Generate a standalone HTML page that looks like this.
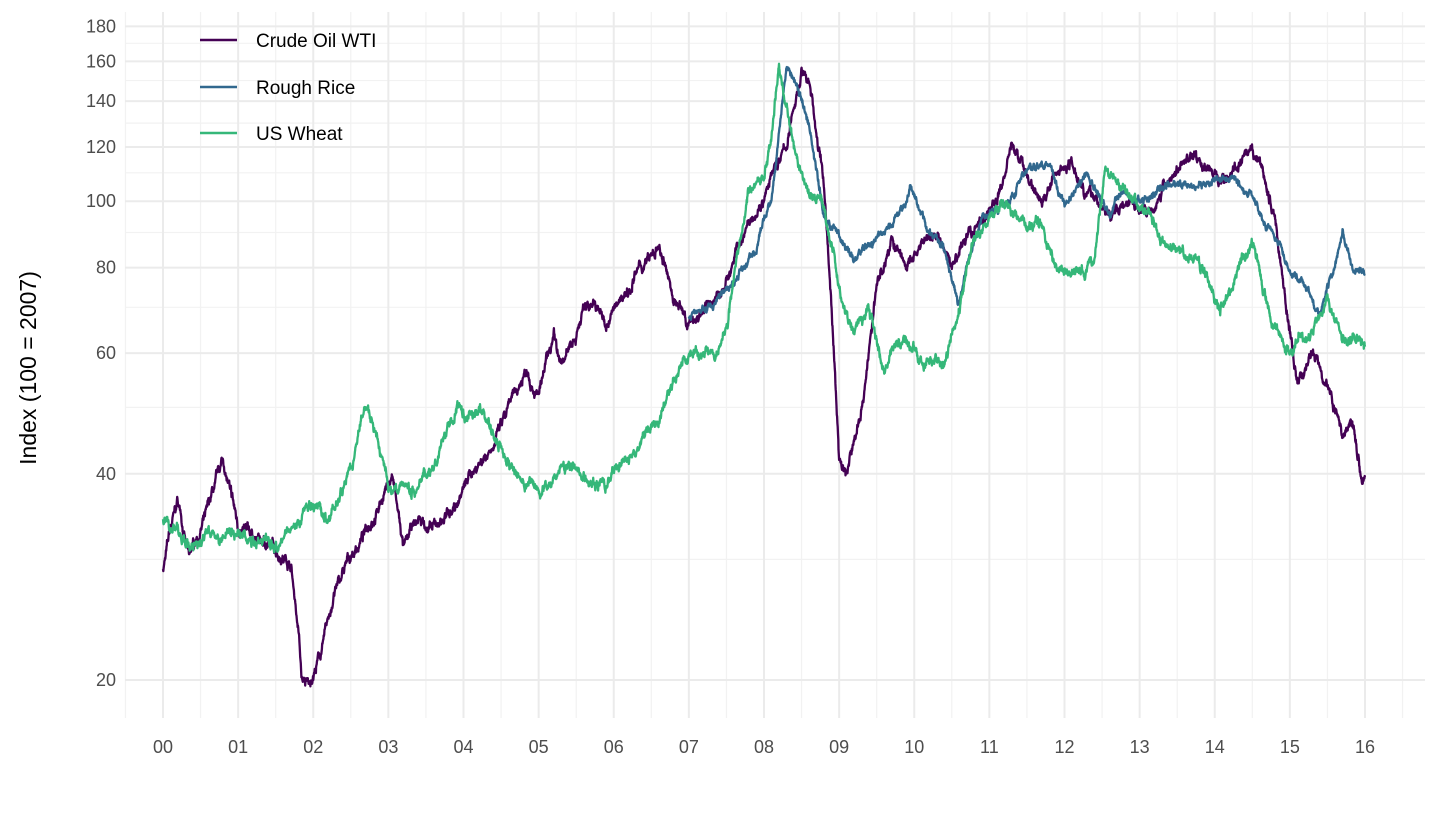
<!DOCTYPE html>
<html><head><meta charset="utf-8"><style>
body{margin:0;background:#fff;}
svg text{font-family:"Liberation Sans",Arial,sans-serif;}
</style></head><body>
<svg id="s" width="1440" height="810" xmlns="http://www.w3.org/2000/svg">
<g id="grid"></g>
<g id="lines" fill="none" stroke-width="2.3" stroke-linejoin="round"></g>
<g id="lab" fill="#4d4d4d" font-size="18"></g>
<text x="0" y="0" transform="translate(36,368) rotate(-90)" text-anchor="middle" font-size="23" fill="#000">Index (100 = 2007)</text>
<line x1="200" y1="40" x2="237" y2="40" stroke="#440154" stroke-width="2.4"/>
<line x1="200" y1="87" x2="237" y2="87" stroke="#31688e" stroke-width="2.4"/>
<line x1="200" y1="133" x2="237" y2="133" stroke="#35b779" stroke-width="2.4"/>
<text x="256" y="47" font-size="19">Crude Oil WTI</text>
<text x="256" y="94" font-size="19">Rough Rice</text>
<text x="256" y="140" font-size="19">US Wheat</text>
</svg>
<script>
var NS="http://www.w3.org/2000/svg";
function Y(v){return 680-297.5*Math.log(v/20);}
function X(t){return 163+t*75.125;}
function el(p,tag,a,txt){var e=document.createElementNS(NS,tag);for(var k in a)e.setAttribute(k,a[k]);if(txt!=null)e.textContent=txt;p.appendChild(e);return e;}
var g=document.getElementById('grid'),lab=document.getElementById('lab'),L=document.getElementById('lines');
[30,50,70,90,110,130,150,170].forEach(function(v){el(g,'line',{x1:125,x2:1425,y1:Y(v),y2:Y(v),stroke:'#f2f2f2','stroke-width':1.2});});
for(var i=-0.5;i<=16.5;i+=1){el(g,'line',{x1:X(i),x2:X(i),y1:12,y2:718,stroke:'#f2f2f2','stroke-width':1.2});}
[20,40,60,80,100,120,140,160,180].forEach(function(v){el(g,'line',{x1:125,x2:1425,y1:Y(v),y2:Y(v),stroke:'#ebebeb','stroke-width':2});el(lab,'text',{x:116,y:Y(v)+6,'text-anchor':'end'},v);});
for(var i=0;i<=16;i++){el(g,'line',{x1:X(i),x2:X(i),y1:12,y2:718,stroke:'#ebebeb','stroke-width':2});el(lab,'text',{x:X(i),y:753,'text-anchor':'middle'},(i<10?'0':'')+i);}
var seed=7;function rnd(){seed=(seed*16807)%2147483647;return seed/2147483647;}
function series(k,col,amp){
 var pts=[],n=Math.round((k[k.length-1][0]-k[0][0])*260),t0=k[0][0],t1=k[k.length-1][0],j=0,dev=0,d2=0;
 for(var s=0;s<=n;s++){var t=t0+(t1-t0)*s/n;while(j<k.length-2&&t>k[j+1][0])j++;
  var a=k[j],b=k[j+1],f=(t-a[0])/(b[0]-a[0]);var v=Math.exp(Math.log(a[1])*(1-f)+Math.log(b[1])*f);
  dev=dev*0.97+(rnd()-0.5)*amp;d2=d2*0.6+(rnd()-0.5)*amp*1.4;pts.push(X(t).toFixed(1)+','+Y(v*Math.exp(dev+d2)).toFixed(1));}
 el(L,'polyline',{points:pts.join(' '),stroke:col});}
var oil=[[0,29],[0.1,33],[0.2,36],[0.35,30],[0.5,33],[0.7,38],[0.8,41],[1,33],[1.2,32],[1.5,31],[1.7,30],[1.8,24],[1.85,20],[1.95,19.5],[2.1,22],[2.3,27],[2.5,30],[2.7,33],[2.95,38],[3.05,40],[3.2,31],[3.4,34],[3.6,33],[3.9,36],[4.1,40],[4.3,43],[4.5,47],[4.7,52],[4.85,57],[5,53],[5.2,62],[5.3,56],[5.5,64],[5.6,70],[5.7,72],[5.9,66],[6.1,72],[6.3,79],[6.6,84],[6.8,72],[7,66],[7.2,70],[7.4,72],[7.6,82],[7.8,95],[8,104],[8.3,120],[8.5,155],[8.6,150],[8.8,105],[8.9,70],[9,42],[9.1,40],[9.3,50],[9.5,75],[9.7,88],[9.9,80],[10.1,85],[10.3,88],[10.5,80],[10.7,88],[10.9,95],[11.1,100],[11.3,120],[11.5,110],[11.7,100],[11.9,110],[12.1,115],[12.3,105],[12.6,95],[12.9,102],[13.1,98],[13.4,108],[13.7,118],[13.9,112],[14.1,108],[14.4,115],[14.6,112],[14.8,95],[15,65],[15.1,53],[15.3,60],[15.5,55],[15.7,46],[15.85,48],[15.95,40],[16,40]];
var rice=[[7,68],[7.3,70],[7.6,76],[7.9,85],[8.1,100],[8.3,160],[8.45,145],[8.6,130],[8.8,95],[9,90],[9.2,82],[9.5,88],[9.8,95],[9.95,105],[10.2,90],[10.4,85],[10.6,72],[10.7,80],[10.9,95],[11.2,100],[11.5,110],[11.8,115],[12,100],[12.3,110],[12.6,95],[12.8,105],[13,100],[13.4,105],[13.8,105],[14.2,108],[14.5,102],[14.8,90],[15,80],[15.2,75],[15.4,68],[15.6,80],[15.7,90],[15.85,78],[16,77]];
var wheat=[[0,34],[0.3,32],[0.5,31],[0.7,33],[1,32],[1.3,32],[1.6,33],[1.9,36],[2.2,34],[2.5,40],[2.7,50],[2.85,45],[3,38],[3.3,38],[3.6,42],[3.9,48],[4.2,50],[4.4,45],[4.6,40],[4.8,38],[5,37],[5.3,41],[5.6,40],[5.9,38],[6,40],[6.3,43],[6.6,48],[6.8,55],[7,62],[7.2,60],[7.4,62],[7.5,65],[7.8,105],[8,110],[8.1,125],[8.2,155],[8.4,120],[8.6,105],[8.8,100],[9,75],[9.2,65],[9.4,70],[9.6,58],[9.8,62],[10,60],[10.4,57],[10.6,70],[10.8,88],[11,95],[11.2,100],[11.5,95],[11.7,90],[11.9,80],[12.2,80],[12.4,82],[12.55,112],[12.8,105],[13,100],[13.3,90],[13.6,85],[13.8,83],[14.1,72],[14.3,80],[14.5,88],[14.8,65],[15,60],[15.3,65],[15.5,72],[15.7,62],[16,60]];
series(oil,'#440154',0.014);series(rice,'#31688e',0.01);series(wheat,'#35b779',0.014);
</script>
</body></html>
